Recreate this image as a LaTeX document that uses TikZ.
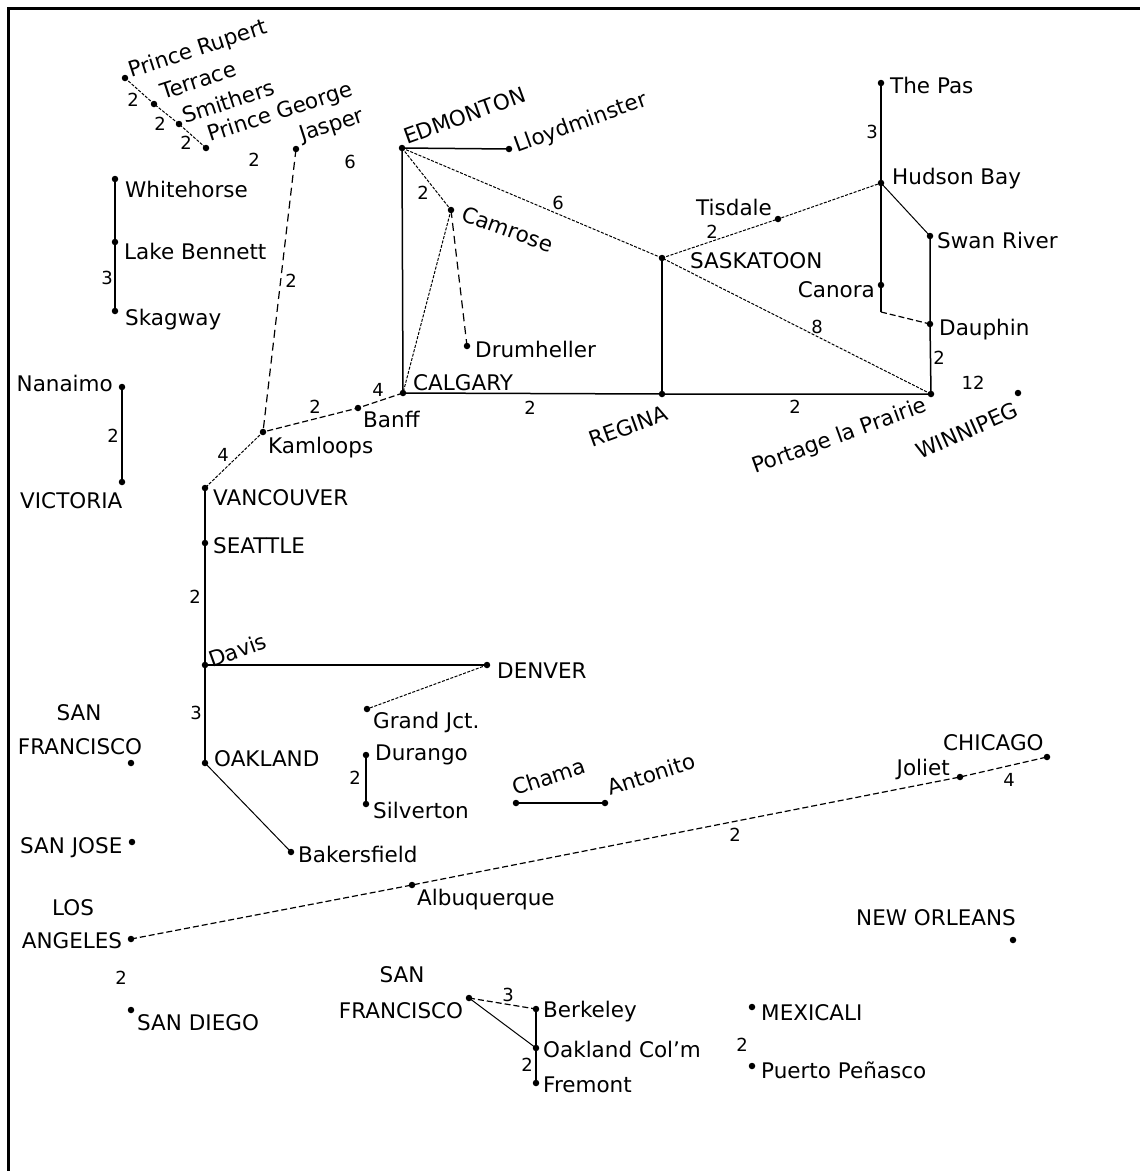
\documentclass[tikz,border=0pt]{standalone}
\usepackage{fontspec}
\setmainfont{DejaVu Sans}
\begin{document}
\begin{tikzpicture}[x=1pt,y=-1pt,
  dot/.style={circle,fill=black,inner sep=0pt,minimum size=6.5pt},
  lbl/.style={inner sep=0pt,font=\fontsize{21.5}{25}\selectfont},
  lw/.style={lbl,anchor=base west},
  le/.style={lbl,anchor=base east},
  lc/.style={lbl,anchor=base},
  lr/.style={lbl,anchor=base west,rotate=20},
  num/.style={inner sep=0pt,font=\fontsize{18}{22}\selectfont},
  road/.style={line width=1.5pt},
  slim/.style={line width=1pt},
  fine/.style={line width=1pt,dash pattern=on 3pt off 1.5pt},
  mid/.style={line width=1.2pt,dash pattern=on 6pt off 3pt},
  long/.style={line width=1.2pt,dash pattern=on 8pt off 5pt}]
\useasboundingbox (0,0) rectangle (1140,1171);
\draw[line width=3pt] (8,1171) -- (8,8) -- (1140,8);

% ---- dots ----
\node[dot] (pr) at (125,78) {};
\node[dot] (ter) at (154,104) {};
\node[dot] (smi) at (179,124) {};
\node[dot] (pg) at (206,148) {};
\node[dot] (jas) at (296,149) {};
\node[dot] (whi) at (115,179) {};
\node[dot] (lab) at (115,242) {};
\node[dot] (ska) at (115,311) {};
\node[dot] (nan) at (122,387) {};
\node[dot] (vic) at (122,482) {};
\node[dot] (edm) at (402,148) {};
\node[dot] (llo) at (509,149) {};
\node[dot] (cam) at (451,210) {};
\node[dot] (dru) at (467,346) {};
\node[dot] (cal) at (403,393) {};
\node[dot] (sas) at (662,258) {};
\node[dot] (reg) at (662,394) {};
\node[dot] (tis) at (778,219) {};
\node[dot] (hud) at (881,183) {};
\node[dot] (pas) at (881,83) {};
\node[dot] (swa) at (930,236) {};
\node[dot] (can) at (881,285) {};
\coordinate (bend) at (881,312);
\node[dot] (dau) at (930,324) {};
\node[dot] (por) at (931,394) {};
\node[dot] (win) at (1018,393) {};
\node[dot] (ban) at (358,408) {};
\node[dot] (kam) at (263,432) {};
\node[dot] (van) at (205,488) {};
\node[dot] (sea) at (205,543) {};
\node[dot] (dav) at (205,665) {};
\node[dot] (den) at (487,665) {};
\node[dot] (gra) at (367,709) {};
\node[dot] (oak) at (205,763) {};
\node[dot] (dur) at (366,755) {};
\node[dot] (sil) at (366,804) {};
\node[dot] (cha) at (516,803) {};
\node[dot] (ant) at (605,803) {};
\node[dot] (sfw) at (131,763) {};
\node[dot] (sjo) at (132,842) {};
\node[dot] (bak) at (291,852) {};
\node[dot] (alb) at (412,885) {};
\node[dot] (la) at (131,939) {};
\node[dot] (jol) at (960,777) {};
\node[dot] (chi) at (1047,757) {};
\node[dot] (neo) at (1013,940) {};
\node[dot] (sdi) at (131,1010) {};
\node[dot] (sf) at (469,998) {};
\node[dot] (ber) at (536,1009) {};
\node[dot] (ocl) at (536,1048) {};
\node[dot] (fre) at (536,1083) {};
\node[dot] (mex) at (752,1007) {};
\node[dot] (pue) at (752,1066) {};

% ---- connectors ----
\draw[fine] (pr.center) -- (ter.center) -- (smi.center) -- (pg.center);
\draw[long] (jas.center) -- (kam.center);
\draw[road] (whi.center) -- (lab.center) -- (ska.center);
\draw[road] (nan.center) -- (vic.center);
\draw[road] (edm.center) -- (llo.center);
\draw[road] (edm.center) -- (cal.center);
\draw[fine] (edm.center) -- (cam.center);
\draw[fine] (edm.center) -- (sas.center) -- (por.center);
\draw[fine] (cam.center) -- (cal.center);
\draw[long] (cam.center) -- (dru.center);
\draw[fine] (sas.center) -- (tis.center) -- (hud.center);
\draw[road] (sas.center) -- (reg.center);
\draw[road] (cal.center) -- (reg.center) -- (por.center);
\draw[road] (pas.center) -- (hud.center) -- (can.center) -- (bend);
\draw[mid] (bend) -- (dau.center);
\draw[slim] (hud.center) -- (swa.center);
\draw[road] (swa.center) -- (dau.center) -- (por.center);
\draw[mid] (cal.center) -- (ban.center) -- (kam.center);
\draw[fine] (kam.center) -- (van.center);
\draw[road] (van.center) -- (sea.center) -- (dav.center) -- (oak.center);
\draw[road] (dav.center) -- (den.center);
\draw[fine] (den.center) -- (gra.center);
\draw[road] (dur.center) -- (sil.center);
\draw[road] (cha.center) -- (ant.center);
\draw[slim] (oak.center) -- (bak.center);
\draw[mid] (la.center) -- (alb.center) -- (jol.center) -- (chi.center);
\draw[mid] (sf.center) -- (ber.center);
\draw[slim] (sf.center) -- (ocl.center);
\draw[road] (ber.center) -- (ocl.center) -- (fre.center);

% ---- labels ----
\node[lbl,anchor=base west,rotate=18] (prL) at (131,78) {Prince Rupert};
\node[lbl,anchor=base west,rotate=18] (terL) at (163,100) {Terrace};
\node[lbl,anchor=base west,rotate=18] (smiL) at (185,124) {Smithers};
\node[lbl,anchor=base west,rotate=18] (pgL) at (210,142) {Prince George};
\node[lbl,anchor=base west,rotate=18] (jasL) at (302,142) {Jasper};
\node[lw] (whiL) at (125,197) {Whitehorse};
\node[lw] (labL) at (124,259) {Lake Bennett};
\node[lw] (skaL) at (125,325) {Skagway};
\node[le] (nanL) at (113,391) {Nanaimo};
\node[lw] (vicL) at (20,508) {VICTORIA};
\node[lr] (edmL) at (407,145) {EDMONTON};
\node[lr] (lloL) at (517,153) {Lloydminster};
\node[lbl,anchor=base west,rotate=-20] (camL) at (460,220) {Camrose};
\node[lw] (druL) at (475,357) {Drumheller};
\node[lw] (calL) at (413,390) {CALGARY};
\node[lw] (sasL) at (690,268) {SASKATOON};
\node[lr] (regL) at (592,448) {REGINA};
\node[lw] (tisL) at (696,215) {Tisdale};
\node[lw] (pasL) at (890,93) {The Pas};
\node[lw] (hudL) at (892,184) {Hudson Bay};
\node[lw] (swaL) at (937,248) {Swan River};
\node[le] (canL) at (875,297) {Canora};
\node[lw] (dauL) at (939,335) {Dauphin};
\node[lr] (porL) at (755,474) {Portage la Prairie};
\node[lbl,anchor=base west,rotate=24] (winL) at (920,460) {WINNIPEG};
\node[lw] (banL) at (363,427) {Banff};
\node[lw] (kamL) at (268,453) {Kamloops};
\node[lw] (vanL) at (213,505) {VANCOUVER};
\node[lw] (seaL) at (213,553) {SEATTLE};
\node[lr] (davL) at (212,668) {Davis};
\node[lw] (denL) at (497,678) {DENVER};
\node[lw] (graL) at (373,728) {Grand Jct.};
\node[lw] (oakL) at (214,766) {OAKLAND};
\node[lw] (durL) at (375,760) {Durango};
\node[lw] (silL) at (373,818) {Silverton};
\node[lbl,anchor=base west,rotate=18] (chaL) at (515,796) {Chama};
\node[lbl,anchor=base west,rotate=18] (antL) at (610,796) {Antonito};
\node[lc] (sfwL1) at (79,720) {SAN};
\node[lc] (sfwL2) at (80,754) {FRANCISCO};
\node[lw] (sjoL) at (20,853) {SAN JOSE};
\node[lw] (bakL) at (298,862) {Bakersfield};
\node[lw] (albL) at (417,905) {Albuquerque};
\node[lc] (laL1) at (73,915) {LOS};
\node[lc] (laL2) at (72,948) {ANGELES};
\node[lw] (chiL) at (943,750) {CHICAGO};
\node[le] (jolL) at (950,775) {Joliet};
\node[lw] (neoL) at (856,925) {NEW ORLEANS};
\node[lc] (sfL1) at (402,982) {SAN};
\node[lc] (sfL2) at (401,1018) {FRANCISCO};
\node[lw] (berL) at (543,1017) {Berkeley};
\node[lw] (oclL) at (543,1057) {Oakland Col'm};
\node[lw] (freL) at (543,1092) {Fremont};
\node[lw] (mexL) at (761,1020) {MEXICALI};
\node[lw] (pueL) at (761,1078) {Puerto Peñasco};
\node[lw] (sdiL) at (137,1030) {SAN DIEGO};

% ---- weights ----
\node[num] (w1) at (133,100) {2};
\node[num] (w2) at (160,124) {2};
\node[num] (w3) at (186,143) {2};
\node[num] (w4) at (254,160) {2};
\node[num] (w5) at (350,162) {6};
\node[num] (w6) at (107,278) {3};
\node[num] (w7) at (291,281) {2};
\node[num] (w8) at (113,436) {2};
\node[num] (w9) at (423,193) {2};
\node[num] (w10) at (558,203) {6};
\node[num] (w11) at (530,408) {2};
\node[num] (w12) at (712,232) {2};
\node[num] (w13) at (872,132) {3};
\node[num] (w14) at (939,358) {2};
\node[num] (w15) at (973,383) {12};
\node[num] (w16) at (817,327) {8};
\node[num] (w17) at (795,407) {2};
\node[num] (w18) at (315,407) {2};
\node[num] (w19) at (378,390) {4};
\node[num] (w20) at (223,455) {4};
\node[num] (w21) at (195,597) {2};
\node[num] (w22) at (196,713) {3};
\node[num] (w23) at (355,778) {2};
\node[num] (w24) at (121,978) {2};
\node[num] (w25) at (735,835) {2};
\node[num] (w26) at (1009,780) {4};
\node[num] (w27) at (508,995) {3};
\node[num] (w28) at (527,1065) {2};
\node[num] (w29) at (742,1045) {2};
\end{tikzpicture}
\end{document}
